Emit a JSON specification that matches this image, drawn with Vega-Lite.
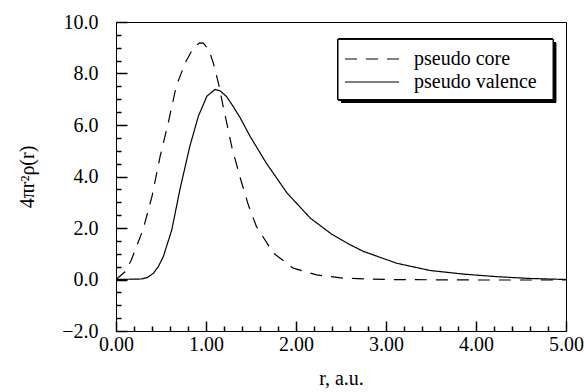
{
  "$schema": "https://vega.github.io/schema/vega-lite/v6.json",
  "width": 450,
  "height": 309,
  "autosize": "none",
  "padding": {"left": 116, "top": 22, "right": 18, "bottom": 61},
  "background": "white",
  "config": {
    "view": {"stroke": "black", "strokeWidth": 1, "fill": null},
    "font": "Liberation Serif",
    "axis": {
      "labelFont": "Liberation Serif",
      "titleFont": "Liberation Serif",
      "labelFontSize": 20,
      "titleFontSize": 20,
      "titleFontWeight": "normal",
      "labelColor": "black",
      "titleColor": "black",
      "tickColor": "#000000",
      "tickWidth": 1.5,
      "tickOpacity": 1,
      "ticks": true,
      "domain": false,
      "grid": false,
      "labelFlush": false,
      "labelOverlap": false,
      "zindex": 1
    },
    "legend": {
      "labelFont": "Liberation Serif",
      "labelFontSize": 20,
      "labelColor": "black"
    }
  },
  "data": {
    "values": [
      {"r": 0.0, "v": 0.0, "series": "pseudo core"},
      {"r": 0.1, "v": 0.3, "series": "pseudo core"},
      {"r": 0.17, "v": 0.76, "series": "pseudo core"},
      {"r": 0.3, "v": 1.93, "series": "pseudo core"},
      {"r": 0.4, "v": 3.23, "series": "pseudo core"},
      {"r": 0.49, "v": 4.78, "series": "pseudo core"},
      {"r": 0.58, "v": 6.08, "series": "pseudo core"},
      {"r": 0.67, "v": 7.51, "series": "pseudo core"},
      {"r": 0.77, "v": 8.42, "series": "pseudo core"},
      {"r": 0.86, "v": 9.0, "series": "pseudo core"},
      {"r": 0.93, "v": 9.19, "series": "pseudo core"},
      {"r": 0.97, "v": 9.18, "series": "pseudo core"},
      {"r": 1.03, "v": 8.93, "series": "pseudo core"},
      {"r": 1.08, "v": 8.42, "series": "pseudo core"},
      {"r": 1.14, "v": 7.6, "series": "pseudo core"},
      {"r": 1.19, "v": 6.73, "series": "pseudo core"},
      {"r": 1.29, "v": 5.1, "series": "pseudo core"},
      {"r": 1.38, "v": 3.95, "series": "pseudo core"},
      {"r": 1.47, "v": 2.9, "series": "pseudo core"},
      {"r": 1.56, "v": 2.06, "series": "pseudo core"},
      {"r": 1.75, "v": 1.02, "series": "pseudo core"},
      {"r": 1.97, "v": 0.44, "series": "pseudo core"},
      {"r": 2.23, "v": 0.18, "series": "pseudo core"},
      {"r": 2.53, "v": 0.05, "series": "pseudo core"},
      {"r": 3.0, "v": 0.0, "series": "pseudo core"},
      {"r": 4.0, "v": -0.02, "series": "pseudo core"},
      {"r": 5.0, "v": -0.02, "series": "pseudo core"},
      {"r": 0.0, "v": 0.0, "series": "pseudo valence"},
      {"r": 0.28, "v": 0.02, "series": "pseudo valence"},
      {"r": 0.35, "v": 0.08, "series": "pseudo valence"},
      {"r": 0.415, "v": 0.24, "series": "pseudo valence"},
      {"r": 0.47, "v": 0.5, "series": "pseudo valence"},
      {"r": 0.526, "v": 0.89, "series": "pseudo valence"},
      {"r": 0.62, "v": 1.93, "series": "pseudo valence"},
      {"r": 0.71, "v": 3.49, "series": "pseudo valence"},
      {"r": 0.82, "v": 5.17, "series": "pseudo valence"},
      {"r": 0.915, "v": 6.34, "series": "pseudo valence"},
      {"r": 1.01, "v": 7.12, "series": "pseudo valence"},
      {"r": 1.1, "v": 7.38, "series": "pseudo valence"},
      {"r": 1.16, "v": 7.32, "series": "pseudo valence"},
      {"r": 1.23, "v": 7.1, "series": "pseudo valence"},
      {"r": 1.3, "v": 6.73, "series": "pseudo valence"},
      {"r": 1.38, "v": 6.28, "series": "pseudo valence"},
      {"r": 1.49, "v": 5.56, "series": "pseudo valence"},
      {"r": 1.67, "v": 4.52, "series": "pseudo valence"},
      {"r": 1.9, "v": 3.36, "series": "pseudo valence"},
      {"r": 2.16, "v": 2.38, "series": "pseudo valence"},
      {"r": 2.4, "v": 1.75, "series": "pseudo valence"},
      {"r": 2.6, "v": 1.35, "series": "pseudo valence"},
      {"r": 2.75, "v": 1.09, "series": "pseudo valence"},
      {"r": 3.12, "v": 0.63, "series": "pseudo valence"},
      {"r": 3.49, "v": 0.35, "series": "pseudo valence"},
      {"r": 3.86, "v": 0.21, "series": "pseudo valence"},
      {"r": 4.23, "v": 0.11, "series": "pseudo valence"},
      {"r": 4.6, "v": 0.04, "series": "pseudo valence"},
      {"r": 5.0, "v": 0.0, "series": "pseudo valence"}
    ]
  },
  "resolve": {"axis": {"x": "independent", "y": "independent"}},
  "layer": [
    {
      "mark": {"type": "line", "color": "black", "strokeWidth": 1.2, "clip": true},
      "encoding": {
        "x": {
          "field": "r", "type": "quantitative",
          "scale": {"domain": [0, 5], "nice": false, "zero": false, "padding": 0},
          "axis": {
            "orient": "bottom",
            "values": [0, 1, 2, 3, 4, 5],
            "format": ".2f",
            "offset": -10,
            "tickSize": 10,
            "labelPadding": 3,
            "title": "r, a.u.",
            "titlePadding": 14
          }
        },
        "y": {
          "field": "v", "type": "quantitative",
          "scale": {"domain": [-2, 10], "nice": false, "zero": false, "padding": 0},
          "axis": {
            "orient": "left",
            "values": [-2, 0, 2, 4, 6, 8, 10],
            "format": ".1f",
            "offset": -11,
            "tickSize": 11,
            "labelPadding": 18,
            "title": "4πr²ρ(r)",
            "titlePadding": 24
          }
        },
        "strokeDash": {
          "field": "series", "type": "nominal",
          "scale": {"domain": ["pseudo core", "pseudo valence"], "range": [[12, 9], [1, 0]]},
          "legend": {
            "title": null,
            "orient": "none",
            "legendX": 228,
            "legendY": 26,
            "padding": 0,
            "symbolType": "M-1,0H4.4",
            "symbolSize": 400,
            "symbolStrokeWidth": 1.2,
            "symbolStrokeColor": "black",
            "symbolFillColor": "transparent",
            "labelOffset": 48,
            "rowPadding": 2
          }
        }
      }
    },
    {
      "mark": {"type": "point", "opacity": 0},
      "encoding": {
        "x": {
          "field": "r", "type": "quantitative",
          "scale": {"domain": [0, 5], "nice": false, "zero": false, "padding": 0},
          "axis": {
            "orient": "bottom",
            "values": [0.2, 0.4, 0.6, 0.8, 1.2, 1.4, 1.6, 1.8, 2.2, 2.4, 2.6, 2.8, 3.2, 3.4, 3.6, 3.8, 4.2, 4.4, 4.6, 4.8],
            "labels": false,
            "offset": -5,
            "tickSize": 5,
            "title": null
          }
        },
        "y": {
          "field": "v", "type": "quantitative",
          "scale": {"domain": [-2, 10], "nice": false, "zero": false, "padding": 0},
          "axis": {
            "orient": "left",
            "values": [-1.5, -1, -0.5, 0.5, 1, 1.5, 2.5, 3, 3.5, 4.5, 5, 5.5, 6.5, 7, 7.5, 8.5, 9, 9.5],
            "labels": false,
            "offset": -5,
            "tickSize": 5,
            "title": null
          }
        }
      }
    },
    {
      "mark": {"type": "rect", "fill": "black"},
      "encoding": {
        "x": {"datum": 2.5, "axis": null, "scale": {"domain": [0, 5], "nice": false, "zero": false, "padding": 0}},
        "x2": {"datum": 4.889},
        "y": {"datum": 9.206, "axis": null, "scale": {"domain": [-2, 10], "nice": false, "zero": false, "padding": 0}},
        "y2": {"datum": 6.872}
      }
    },
    {
      "mark": {"type": "rect", "fill": "white", "stroke": "black", "strokeWidth": 1},
      "encoding": {
        "x": {"datum": 2.467, "axis": null, "scale": {"domain": [0, 5], "nice": false, "zero": false, "padding": 0}},
        "x2": {"datum": 4.856},
        "y": {"datum": 9.323, "axis": null, "scale": {"domain": [-2, 10], "nice": false, "zero": false, "padding": 0}},
        "y2": {"datum": 6.988}
      }
    }
  ]
}
